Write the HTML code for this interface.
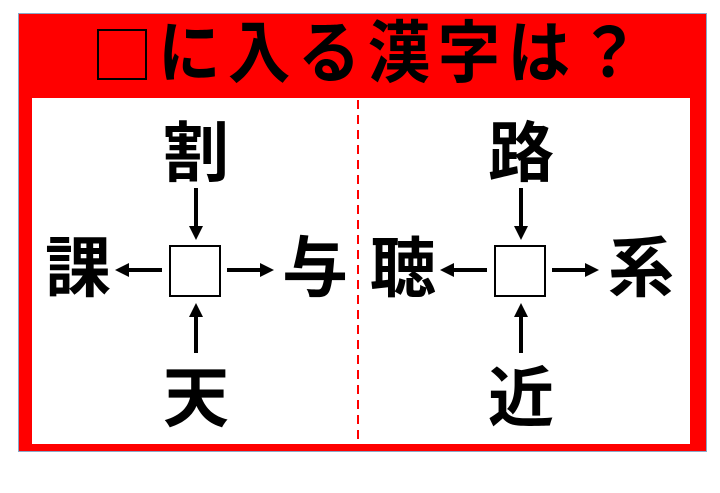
<!DOCTYPE html>
<html><head><meta charset="utf-8"><style>
body{margin:0;width:720px;height:493px;background:#fff;position:relative;overflow:hidden;font-family:"Liberation Sans","Noto Sans CJK JP",sans-serif}
.frame{position:absolute;left:19px;top:14px;width:687px;height:437px;background:#f00;outline:1px solid #8aa8c8}
.inner{position:absolute;left:32px;top:98px;width:658px;height:346px;background:#fff}
.title{position:absolute;left:158px;top:14px;white-space:nowrap;font-size:68px;font-weight:bold;line-height:80px;letter-spacing:8px;color:#000;transform:scaleX(0.92);transform-origin:0 0}
.tsq{position:absolute;left:97px;top:29px;width:46px;height:47px;border:2px solid #000}
.k{position:absolute;font-size:66px;font-weight:bold;line-height:64px;width:70px;text-align:center;color:#000}
.box{position:absolute;width:48px;height:48px;border:2px solid #000;background:#fff}
svg{position:absolute;left:0;top:0}
</style></head><body>
<div class="frame"></div>
<div class="inner"></div>
<div class="tsq"></div>
<div class="title">に入る漢字は？</div>
<svg width="720" height="493">
<line x1="358" y1="100" x2="358" y2="444" stroke="#f00" stroke-width="2" stroke-dasharray="9,6"/>
<defs><marker id="a" markerWidth="14" markerHeight="14" refX="2" refY="7" orient="auto" markerUnits="userSpaceOnUse"><path d="M0,0 L14,7 L0,14z" fill="#000"/></marker></defs>
<g stroke="#000" stroke-width="4">
<line x1="196" y1="188" x2="196" y2="228" marker-end="url(#a)"/>
<line x1="162" y1="270" x2="127" y2="270" marker-end="url(#a)"/>
<line x1="227" y1="270" x2="262" y2="270" marker-end="url(#a)"/>
<line x1="196" y1="353" x2="196" y2="315" marker-end="url(#a)"/>
<line x1="521" y1="188" x2="521" y2="228" marker-end="url(#a)"/>
<line x1="487" y1="270" x2="452" y2="270" marker-end="url(#a)"/>
<line x1="552" y1="270" x2="587" y2="270" marker-end="url(#a)"/>
<line x1="521" y1="353" x2="521" y2="315" marker-end="url(#a)"/>
</g></svg>
<div class="box" style="left:169px;top:245px"></div>
<div class="box" style="left:494px;top:245px"></div>
<div class="k" style="left:161px;top:121px">割</div>
<div class="k" style="left:43px;top:236px">課</div>
<div class="k" style="left:280px;top:236px">与</div>
<div class="k" style="left:161px;top:366px">天</div>
<div class="k" style="left:486px;top:121px">路</div>
<div class="k" style="left:368px;top:236px">聴</div>
<div class="k" style="left:606px;top:236px">系</div>
<div class="k" style="left:486px;top:366px">近</div>
</body></html>
